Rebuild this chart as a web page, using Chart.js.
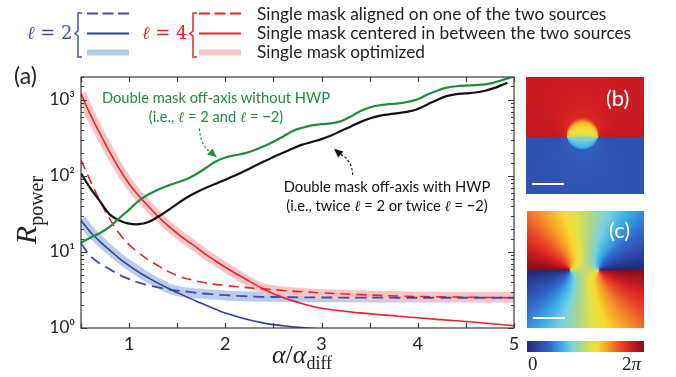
<!DOCTYPE html>
<html><head><meta charset="utf-8">
<script src="https://cdn.jsdelivr.net/npm/chart.js@4/dist/chart.umd.min.js"></script>
<style>
html,body{margin:0;padding:0;background:#fff;}
#wrap{position:relative;width:676px;height:377px;overflow:hidden;font-family:Lato,'Open Sans',sans-serif;color:#222;}
#chart{position:absolute;left:0;top:0;}
.abs{position:absolute;white-space:nowrap;}
.ell{font-family:'DejaVu Serif','Liberation Serif',serif;font-style:italic;}
.ser{font-family:'Liberation Serif','DejaVu Serif',serif;}
.leg{font-size:17.3px;line-height:19px;left:257px;color:#222;}
.panel{position:absolute;}
.plab{position:absolute;color:#fff;font-size:22px;}
.bar{position:absolute;height:2px;background:#fff;}
</style></head><body>
<div id="wrap">
<canvas id="chart" width="676" height="377"></canvas>

<svg class="abs" style="left:0;top:0" width="676" height="377" xmlns="http://www.w3.org/2000/svg">
  <path d="M82,13 L78,13 L78,31 L75,33.5 L78,36 L78,57 L82,57" fill="none" stroke="#3b53a4" stroke-width="1.5"/>
  <path d="M197,13 L193,13 L193,31 L190,33.5 L193,36 L193,57 L197,57" fill="none" stroke="#e8232b" stroke-width="1.5"/>
  <line x1="87" y1="13.5" x2="129" y2="13.5" stroke="#3b4ba3" stroke-width="2" stroke-dasharray="11 4.5"/>
  <line x1="87" y1="33.5" x2="129" y2="33.5" stroke="#2f3f9f" stroke-width="2"/>
  <line x1="87" y1="52.5" x2="129" y2="52.5" stroke="#b7cbea" stroke-width="6"/>
  <line x1="199" y1="13.5" x2="241" y2="13.5" stroke="#e8232b" stroke-width="2" stroke-dasharray="11 4.5"/>
  <line x1="199" y1="33.5" x2="241" y2="33.5" stroke="#e8232b" stroke-width="2"/>
  <line x1="199" y1="52.5" x2="241" y2="52.5" stroke="#f8c6c6" stroke-width="6"/>
  <path d="M199.3,128.5 Q201,146 209.8,151.5" fill="none" stroke="#1e8c3c" stroke-width="1.2" stroke-dasharray="2.5 2"/>
  <polygon points="216.7,157.3 207.2,154.6 212.4,148.4" fill="#1e8c3c"/>
  <path d="M352.7,175 Q352,160 340.8,154.6" fill="none" stroke="#111" stroke-width="1.2" stroke-dasharray="2.5 2"/>
  <polygon points="334,148.7 343.4,151.6 338.1,157.6" fill="#111"/>
</svg>

<div class="abs ell" style="left:27px;top:22px;font-size:18px;color:#3b53a4;">ℓ<span style="font-style:normal"> = 2</span></div>
<div class="abs ell" style="left:142px;top:22px;font-size:18px;color:#e8232b;">ℓ<span style="font-style:normal"> = 4</span></div>
<div class="abs leg" style="top:4px;">Single mask aligned on one of the two sources</div>
<div class="abs leg" style="top:23px;">Single mask centered in between the two sources</div>
<div class="abs leg" style="top:42px;">Single mask optimized</div>

<div class="abs" style="left:14px;top:61px;font-size:23px;">(a)</div>

<div class="abs ser" style="left:27px;top:210px;transform:translate(-50%,-50%) rotate(-90deg);font-size:30px;line-height:34px;"><i>R</i><span style="font-size:20px;position:relative;top:7px;">power</span></div>
<div class="abs ser" style="left:302px;top:356px;transform:translate(-50%,-50%);font-size:26px;line-height:30px;"><i>α</i>/<i>α</i><span style="font-size:18px;position:relative;top:6px;">diff</span></div>

<div class="abs" style="left:216px;top:88px;transform:translateX(-50%);text-align:center;font-size:14.7px;line-height:19px;color:#1e8c3c;">Double mask off-axis without HWP<br>(i.e., <span class="ell">ℓ</span> = 2 and <span class="ell">ℓ</span> = <b>−</b>2)</div>
<div class="abs" style="left:387px;top:177px;transform:translateX(-50%);text-align:center;font-size:14.7px;line-height:19px;color:#111;">Double mask off-axis with HWP<br>(i.e., twice <span class="ell">ℓ</span> = 2 or twice <span class="ell">ℓ</span> = <b>−</b>2)</div>

<canvas id="pb" class="panel" width="118" height="117" style="left:526px;top:77px;"></canvas>
<canvas id="pc" class="panel" width="117" height="117" style="left:527px;top:211px;"></canvas>
<canvas id="cbar" class="panel" width="117" height="11" style="left:527px;top:341px;"></canvas>
<div class="plab" style="left:606px;top:84px;">(b)</div>
<div class="plab" style="left:609px;top:216px;">(c)</div>
<div class="bar" style="left:532px;top:183px;width:32px;"></div>
<div class="bar" style="left:533px;top:317px;width:32px;"></div>
<div class="abs ser" style="left:528px;top:353px;font-size:19px;">0</div>
<div class="abs ser" style="left:622px;top:353px;font-size:19px;">2<i>π</i></div>
</div>

<script>
// ---------------- data ----------------
const alphaFine = [0.5,0.6,0.7,0.8,0.9,1.0,1.1,1.2,1.3,1.4,1.5,1.6,1.7,1.8,1.9,2.0,2.1,2.2,2.3,2.4,2.5,2.6,2.7,2.8,2.9,3.0,3.1,3.2,3.3,3.4,3.5,3.6,3.7,3.8,3.9,4.0,4.1,4.2,4.3,4.4,4.5,4.6,4.7,4.8,4.9,5.0];
const doubleNoHWP = [13.3,15.5,17.8,21.5,28,36,47,57,66,74,82,91,106,128,155,175,187,198,218,245,282,330,390,430,462,480,492,525,600,710,795,850,880,900,945,1020,1175,1320,1450,1510,1545,1565,1600,1700,1860,2040];
const alphaBlack = [0.5,0.6,0.7,0.8,0.9,1.0,1.1,1.2,1.3,1.4,1.5,1.6,1.7,1.8,1.9,2.0,2.1,2.2,2.3,2.4,2.5,2.6,2.7,2.8,2.9,3.0,3.1,3.2,3.3,3.4,3.5,3.6,3.7,3.8,3.9,4.0,4.1,4.2,4.3,4.4,4.5,4.6,4.7,4.8,4.9,4.93];
const doubleHWP = [108,68,46,31,26,23.6,23.2,24.8,29,35,43,52,61,70,79,89,101,116,134,155,178,202,230,258,280,305,340,390,445,510,570,615,645,670,700,760,870,1000,1120,1190,1220,1250,1320,1440,1620,1680];

const alphaCoarse = [0.5,0.6,0.7,0.8,0.9,1.0,1.1,1.2,1.3,1.4,1.5,1.6,1.7,1.8,1.9,2.0,2.2,2.4,2.6,2.8,3.0,3.4,3.8,4.2,4.6,5.0];
const l4Centered = [1200,630,355,204,123,79,55,40,29.5,22.4,17.6,14.1,11.5,9.2,7.6,6.3,4.47,3.24,2.51,2.09,1.82,1.58,1.43,1.30,1.19,1.07];
const l4Aligned  = [162,85,46,27,17.4,12.5,9.7,7.9,6.6,5.6,4.9,4.45,4.15,3.9,3.75,3.62,3.42,3.27,3.12,3.0,2.9,2.75,2.63,2.57,2.53,2.5];
const l4Optimized= [1200,630,355,204,123,79,55,40,29.5,22.4,17.6,14.1,11.5,9.2,7.6,6.3,4.4,3.3,3.02,2.9,2.8,2.69,2.61,2.57,2.55,2.55];
const l2Centered = [26,18.2,13.6,10.5,8.2,6.6,5.43,4.57,3.89,3.35,2.92,2.56,2.25,1.99,1.76,1.57,1.32,1.16,1.07,1.01,0.97,null,null,null,null,null];
const l2Aligned  = [13,8.8,7.0,5.9,5.0,4.4,3.95,3.65,3.42,3.24,3.1,3.0,2.9,2.82,2.75,2.7,2.62,2.57,2.55,2.53,2.52,2.51,2.5,2.5,2.5,2.5];
const l2Optimized= [27,18.5,13.8,10.6,8.3,6.7,5.5,4.6,3.9,3.38,3.07,2.93,2.85,2.78,2.73,2.68,2.62,2.58,2.56,2.55,2.54,2.53,2.52,2.52,2.51,2.51];

const xTickLabels = ['1','2','3','4','5'];
const yTickLabels = ['10⁰','10¹','10²','10³'];

// ---------------- chart ----------------
function ds(label, xs, ys, color, width, dash, order){
  return {label, data: xs.map((x,i)=>({x:x, y:ys[i]})), borderColor: color, borderWidth: width,
    borderDash: dash || [], pointRadius: 0, fill: false, tension: 0.4,
    clip: 0, order: order, spanGaps: false, borderCapStyle: 'butt', borderJoinStyle: 'round'};
}

const frame = {
  id: 'frame',
  afterDatasetsDraw(chart){
    const {ctx, chartArea: a, scales: {x, y}} = chart;
    ctx.save();
    ctx.strokeStyle = '#3a3a3a';
    ctx.lineWidth = 1.2;
    ctx.beginPath();
    x.ticks.forEach(t => {
      const p = Math.round(x.getPixelForValue(t.value)) + 0.5;
      ctx.moveTo(p, a.bottom); ctx.lineTo(p, a.bottom - 5);
      ctx.moveTo(p, a.top); ctx.lineTo(p, a.top + 5);
    });
    y.ticks.forEach(t => {
      const l = Math.log10(t.value);
      const major = Math.abs(l - Math.round(l)) < 1e-9;
      const len = major ? 6 : 3;
      const p = Math.round(y.getPixelForValue(t.value)) + 0.5;
      ctx.moveTo(a.left, p); ctx.lineTo(a.left + len, p);
      ctx.moveTo(a.right, p); ctx.lineTo(a.right - len, p);
    });
    ctx.stroke();
    ctx.strokeRect(a.left, a.top, a.right - a.left, a.bottom - a.top);
    ctx.restore();
  }
};

new Chart(document.getElementById('chart'), {
  type: 'line',
  data: { datasets: [
    ds('Double mask off-axis without HWP', alphaFine, doubleNoHWP, '#1e8c3c', 2.2, null, 1),
    ds('Double mask off-axis with HWP', alphaBlack, doubleHWP, '#111111', 2.2, null, 2),
    ds('ℓ=2 centered', alphaCoarse, l2Centered, '#2f3f9f', 1.6, null, 3),
    ds('ℓ=4 centered', alphaCoarse, l4Centered, '#e8232b', 1.6, null, 4),
    ds('ℓ=2 aligned', alphaCoarse, l2Aligned, '#3b4ba3', 1.8, [11,6], 5),
    ds('ℓ=4 aligned', alphaCoarse, l4Aligned, '#e8232b', 1.6, [10,6], 6),
    ds('ℓ=4 optimized', alphaCoarse, l4Optimized, '#f8c6c6', 10, null, 7),
    ds('ℓ=2 optimized', alphaCoarse, l2Optimized, '#b9cdea', 10, null, 8)
  ]},
  options: {
    responsive: false, animation: false, devicePixelRatio: 1,
    layout: { padding: { left: 0, top: 77, right: 162, bottom: 0 } },
    plugins: { legend: { display: false }, tooltip: { enabled: false } },
    scales: {
      x: { type: 'linear', min: 0.5, max: 5,
        afterFit(s){ s.height = 49; },
        grid: { display: false, drawTicks: false }, border: { display: false },
        ticks: { stepSize: 0.5, autoSkip: false, maxRotation: 0, padding: 5, color: '#222',
          font: { family: 'Lato', size: 18 },
          callback: v => { const i = xTickLabels.indexOf(String(v)); return i >= 0 ? xTickLabels[i] : ''; } } },
      y: { type: 'logarithmic', min: 1, max: 2000,
        afterFit(s){ s.width = 81; },
        grid: { display: false, drawTicks: false }, border: { display: false },
        ticks: { autoSkip: false, padding: 6, color: '#222', font: { family: 'Lato', size: 17 },
          callback: v => { const l = Math.log10(v); const r = Math.round(l);
            return (Math.abs(l - r) < 1e-9 && r >= 0 && r < yTickLabels.length) ? yTickLabels[r] : ''; } } }
    }
  },
  plugins: [frame]
});

// ---------------- phase map panels (decoration) ----------------
const stops = [[0,[30,40,120]],[0.1,[45,70,165]],[0.2,[50,105,205]],[0.3,[60,175,230]],[0.38,[120,210,225]],[0.46,[170,215,140]],[0.55,[225,225,70]],[0.61,[248,215,45]],[0.7,[245,150,40]],[0.8,[235,70,40]],[0.88,[212,30,35]],[1,[130,15,20]]];
function cmap(v){
  v = Math.max(0, Math.min(1, v));
  for (let i = 1; i < stops.length; i++){
    if (v <= stops[i][0]){
      const [a, ca] = stops[i-1], [b, cb] = stops[i];
      const f = (v - a) / (b - a);
      return ca.map((c, k) => Math.round(c + (cb[k] - c) * f));
    }
  }
  return stops[stops.length-1][1];
}
function ss(e0, e1, x){ const t = Math.max(0, Math.min(1, (x - e0)/(e1 - e0))); return t*t*(3-2*t); }
function paint(id, fn){
  const c = document.getElementById(id), ctx = c.getContext('2d');
  const img = ctx.createImageData(c.width, c.height);
  for (let y = 0; y < c.height; y++) for (let x = 0; x < c.width; x++){
    const col = cmap(fn(x + 0.5, y + 0.5, c.width, c.height));
    const o = 4*(y*c.width + x);
    img.data[o] = col[0]; img.data[o+1] = col[1]; img.data[o+2] = col[2]; img.data[o+3] = 255;
  }
  ctx.putImageData(img, 0, 0);
}
paint('pb', (x, y) => {
  const x1 = 41, x2 = 72, y0 = 60.3, dy = y0 - y;
  const a = Math.atan2(dy, x - x2) - Math.atan2(dy, x - x1);
  if (dy >= 0){
    const u = Math.max(0, Math.min(1, a/Math.PI)), t = 0.52;
    return 0.91 - 0.12*u - 0.2*ss(t-0.12, t+0.02, u) - 0.1*Math.max(0, (u-t)/(1-t));
  } else {
    const u = Math.max(0, Math.min(1, -a/Math.PI)), t = 0.62;
    return 0.13 + 0.07*u + 0.13*ss(t-0.08, t+0.02, u) + 0.09*Math.max(0, (u-t)/(1-t));
  }
});
paint('pc', (x, y) => {
  const x1 = 43, x2 = 72, y0 = 59, dy = y0 - y, T = 2*Math.PI;
  let p = Math.atan2(dy, x - x1) + Math.atan2(dy, x - x2);
  p = ((p % T) + T) % T;
  return p / T;
});
paint('cbar', (x, y, w) => x / w);
</script>
</body></html>
